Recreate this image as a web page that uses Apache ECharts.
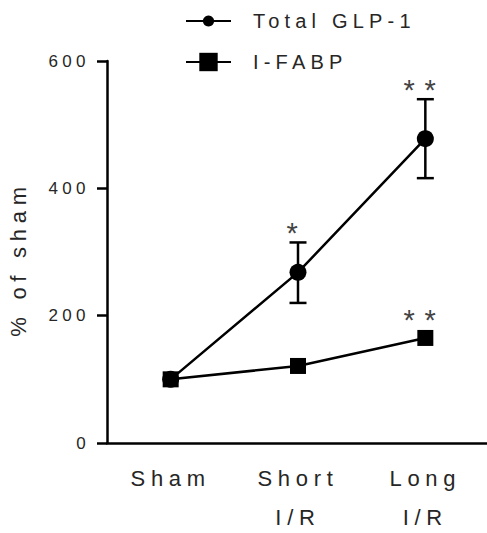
<!DOCTYPE html>
<html><head><meta charset="utf-8">
<script src="https://cdn.jsdelivr.net/npm/echarts@6/dist/echarts.min.js"></script>
<style>
html,body{margin:0;padding:0;background:#fff;}
#chart{width:487px;height:533px;}
#chart svg text{letter-spacing:0.26em;}
</style></head><body><div id="chart"></div>
<script>
const categories = ['Sham', 'Short\nI/R', 'Long\nI/R'];
const glpMean = [100, 268, 478];
const glpLow = [100, 220, 416];
const glpHigh = [100, 315, 540];
const fabpMean = [100, 121, 165];
const glpStars = ['', '*', '**'];
const fabpStars = ['', '', '**'];
const yTicks = [0, 200, 400, 600];

const TXT = '#262626';
const FONT = 'Liberation Sans, Arial, sans-serif';

function renderErr(params, api) {
  const x = api.value(0), lo = api.value(1), hi = api.value(2);
  if (hi === lo) return;
  const top = api.coord([x, hi]), bot = api.coord([x, lo]);
  const hw = 8.5;
  const style = {stroke: '#000', lineWidth: 2.5};
  return {type: 'group', children: [
    {type: 'line', shape: {x1: top[0], y1: top[1], x2: bot[0], y2: bot[1]}, style},
    {type: 'line', shape: {x1: top[0] - hw, y1: top[1], x2: top[0] + hw, y2: top[1]}, style},
    {type: 'line', shape: {x1: bot[0] - hw, y1: bot[1], x2: bot[0] + hw, y2: bot[1]}, style}
  ]};
}
function starRenderer(labels, offsetPx) {
  return function (params, api) {
    const lab = labels[params.dataIndex];
    if (!lab) return;
    const p = api.coord([api.value(0), api.value(1)]);
    const chars = lab.split('');
    const step = 21;
    const children = chars.map((c, k) => ({
      type: 'text',
      x: p[0] - 2 + (k - (chars.length - 1) / 2) * step,
      y: p[1] - offsetPx,
      style: {text: c, fill: '#444', fontSize: 29, fontFamily: FONT, align: 'center', verticalAlign: 'middle'}
    }));
    return {type: 'group', children};
  };
}

const chart = echarts.init(document.getElementById('chart'), null, {renderer: 'svg'});
chart.setOption({
  animation: false,
  backgroundColor: '#fff',
  grid: {left: 107, top: 61, width: 382, height: 382, containLabel: false, outerBoundsMode: 'none'},
  legend: [
    {data: ['Total GLP-1'], left: 180, top: 6, itemWidth: 45, itemHeight: 14,
     textStyle: {color: TXT, fontSize: 20, fontFamily: FONT, padding: [0, 0, 0, 17]}},
    {data: ['I-FABP'], left: 180, top: 47, itemWidth: 45, itemHeight: 23,
     textStyle: {color: TXT, fontSize: 20, fontFamily: FONT, padding: [0, 0, 0, 17]}}
  ],
  xAxis: {
    type: 'category', data: categories, boundaryGap: true,
    axisLine: {lineStyle: {color: '#000', width: 2.5}},
    axisTick: {alignWithLabel: true, length: 8, lineStyle: {color: '#000', width: 2.5}},
    axisLabel: {color: TXT, fontSize: 22, fontFamily: FONT, lineHeight: 39, margin: 16}
  },
  yAxis: {
    type: 'value', min: 0, max: 600, interval: 200,
    name: '% of sham', nameLocation: 'middle', nameGap: 78,
    nameTextStyle: {color: TXT, fontSize: 22, fontFamily: FONT, padding: [0, 14, 0, 0]},
    splitLine: {show: false},
    axisLine: {show: true, lineStyle: {color: '#000', width: 2.5}},
    axisTick: {show: true, length: 10, lineStyle: {color: '#000', width: 2.5}},
    axisLabel: {color: TXT, fontSize: 17, fontFamily: FONT, margin: 17, padding: [8, 0, 0, 0],
      formatter: v => yTicks.includes(v) ? String(v) : ''}
  },
  series: [
    {name: 'Total GLP-1', type: 'line', data: glpMean, symbol: 'circle', symbolSize: 17,
     lineStyle: {color: '#000', width: 2.5}, itemStyle: {color: '#000'}, z: 3},
    {name: 'Total GLP-1 SEM', type: 'custom', renderItem: renderErr, z: 4,
     data: glpMean.map((v, i) => [i, glpLow[i], glpHigh[i]])},
    {name: 'I-FABP', type: 'line', data: fabpMean, symbol: 'rect', symbolSize: 16,
     lineStyle: {color: '#000', width: 2.5}, itemStyle: {color: '#000'}, z: 5},
    {name: 'GLP stars', type: 'custom', renderItem: starRenderer(glpStars, 9), z: 6,
     data: glpHigh.map((v, i) => [i, v])},
    {name: 'FABP stars', type: 'custom', renderItem: starRenderer(fabpStars, 18), z: 6,
     data: fabpMean.map((v, i) => [i, v])}
  ]
});
</script></body></html>
